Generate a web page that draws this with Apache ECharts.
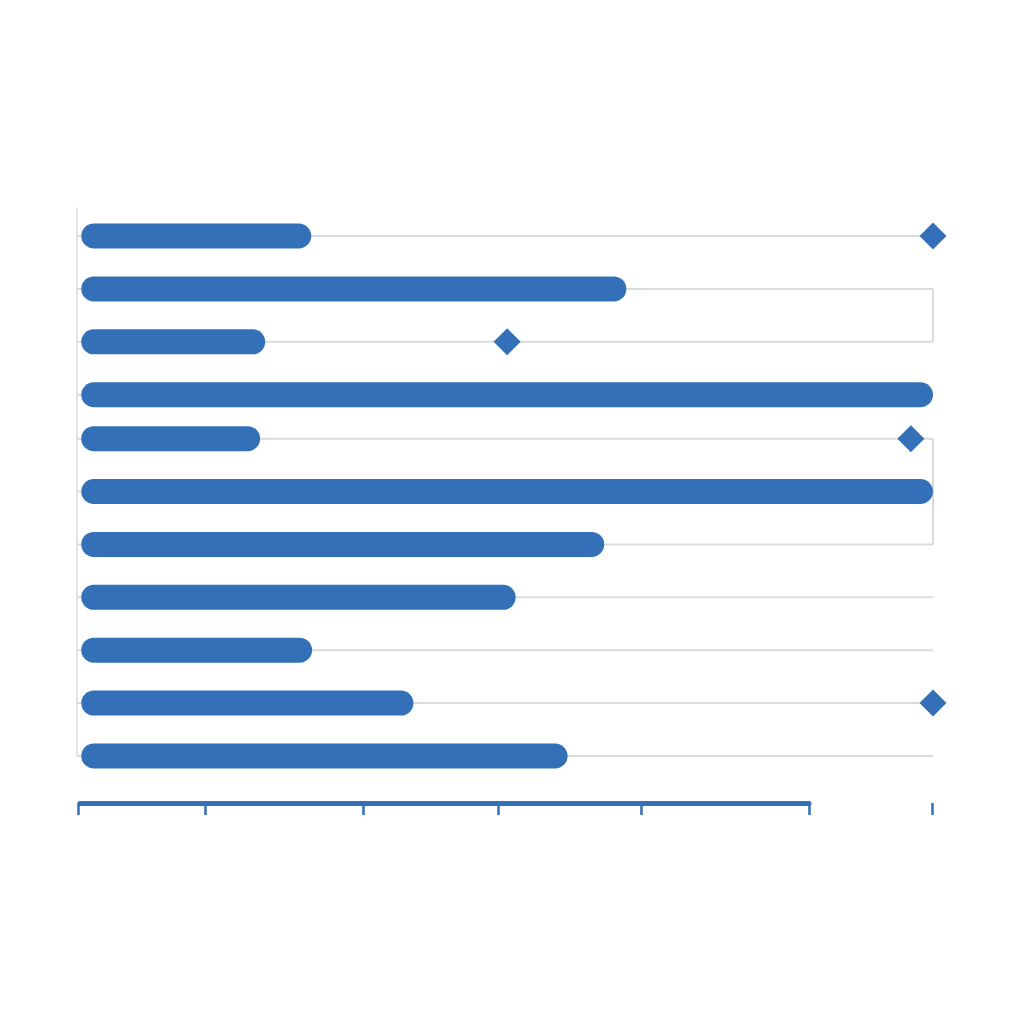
<!DOCTYPE html>
<html>
<head>
<meta charset="utf-8">
<script src="https://cdn.jsdelivr.net/npm/echarts@6/dist/echarts.min.js"></script>
<style>
  html, body { margin: 0; padding: 0; background: #ffffff; }
  #chart { width: 1024px; height: 1024px; }
</style>
</head>
<body>
<div id="chart"></div>
<script>
// ---- data ----
const rowPos = [0, 1, 2, 3, 3.83, 4.83, 5.83, 6.83, 7.83, 8.83, 9.83];
const barValues = [27.0, 64.0, 21.6, 100, 21.0, 100, 61.4, 51.0, 27.1, 39.0, 57.1];
const markerValues = [100, null, 50.0, null, 97.4, null, null, null, null, 100, null];
const connectorRows = [[1, 2], [4, 6]];
const tickValues = [-0.3, 14.6, 33.1, 49.0, 65.8, 85.5, 99.9];

// ---- styles ----
const BLUE = '#3370B8';
const GRID_GRAY = '#d9dcdc';
const X_MIN = -0.5, X_MAX = 100;

const barData = barValues.map((v, i) => [v, rowPos[i]]);
const markerData = [];
markerValues.forEach((v, i) => { if (v !== null) markerData.push([v, rowPos[i]]); });
const lineData = rowPos.map(p => [p]);
const connectorData = connectorRows.map(([a, b]) => [rowPos[a], rowPos[b]]);

const chart = echarts.init(document.getElementById('chart'), null, { renderer: 'canvas' });

chart.setOption({
  animation: false,
  backgroundColor: '#ffffff',
  grid: [
    { left: 77, right: 91, top: 208, bottom: 268 },
    { left: 80, width: 729, top: 700, height: 103 }
  ],
  xAxis: [
    {
      gridIndex: 0, type: 'value', min: X_MIN, max: X_MAX,
      position: 'bottom', offset: 47,
      axisLine: { show: false, onZero: false },
      axisTick: { show: true, customValues: tickValues, length: 12, lineStyle: { color: BLUE, width: 2.5 } },
      axisLabel: { show: false },
      splitLine: { show: false }
    },
    {
      gridIndex: 1, type: 'value', min: 0, max: 1,
      axisLine: { show: true, onZero: false, lineStyle: { color: BLUE, width: 5 } },
      axisTick: { show: false },
      axisLabel: { show: false },
      splitLine: { show: false }
    }
  ],
  yAxis: [
    {
      gridIndex: 0, type: 'value', inverse: true, min: -0.53, max: 9.83,
      position: 'left',
      axisLine: { show: true, onZero: false, lineStyle: { color: GRID_GRAY, width: 1.5 } },
      axisTick: { show: false },
      axisLabel: { show: false },
      splitLine: { show: false }
    },
    {
      gridIndex: 1, type: 'value', show: false
    }
  ],
  series: [
    {
      type: 'custom', name: 'rowLines', z: 1, silent: true,
      xAxisIndex: 0, yAxisIndex: 0,
      data: lineData,
      encode: { y: 0 },
      renderItem: function (params, api) {
        const y = api.value(0);
        const a = api.coord([X_MIN, y]);
        const b = api.coord([X_MAX, y]);
        return {
          type: 'line',
          shape: { x1: a[0], y1: a[1], x2: b[0], y2: b[1] },
          style: { stroke: GRID_GRAY, lineWidth: 2 }
        };
      }
    },
    {
      type: 'custom', name: 'connectors', z: 1, silent: true,
      xAxisIndex: 0, yAxisIndex: 0,
      data: connectorData,
      encode: { y: [0, 1] },
      renderItem: function (params, api) {
        const a = api.coord([X_MAX, api.value(0)]);
        const b = api.coord([X_MAX, api.value(1)]);
        return {
          type: 'line',
          shape: { x1: a[0], y1: a[1], x2: b[0], y2: b[1] },
          style: { stroke: GRID_GRAY, lineWidth: 2 }
        };
      }
    },
    {
      type: 'custom', name: 'bars', z: 2,
      xAxisIndex: 0, yAxisIndex: 0,
      data: barData,
      encode: { x: 0, y: 1 },
      renderItem: function (params, api) {
        const v = api.value(0), y = api.value(1);
        const s = api.coord([0, y]);
        const e = api.coord([v, y]);
        const h = 25;
        return {
          type: 'rect',
          shape: { x: s[0], y: s[1] - h / 2, width: e[0] - s[0], height: h, r: h / 2 },
          style: { fill: BLUE }
        };
      }
    },
    {
      type: 'scatter', name: 'markers', z: 3,
      xAxisIndex: 0, yAxisIndex: 0,
      symbol: 'diamond', symbolSize: 27,
      itemStyle: { color: BLUE, opacity: 1 },
      data: markerData
    }
  ]
});
</script>
</body>
</html>
